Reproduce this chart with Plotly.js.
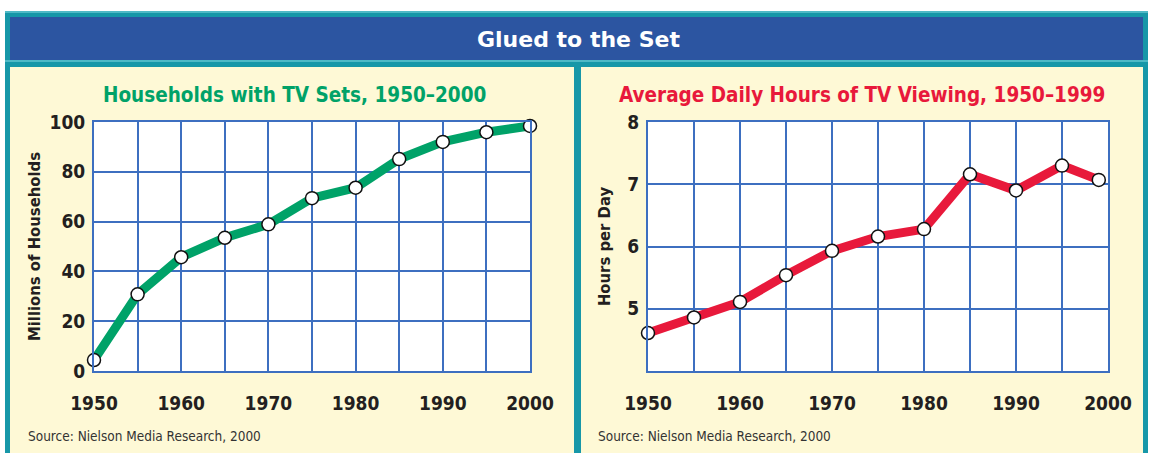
<!DOCTYPE html>
<html>
<head>
<meta charset="utf-8">
<script src="https://cdn.plot.ly/plotly-3.0.1.min.js"></script>
<style>
  html, body { margin: 0; padding: 0; background: #ffffff; }
  #chart { width: 1149px; height: 453px; }
</style>
</head>
<body>
<div id="chart"></div>
<script>
// ---- Data ----
const householdYears = [1950, 1955, 1960, 1965, 1970, 1975, 1980, 1985, 1990, 1995, 2000];
const householdsMillions = [4.4, 30.8, 45.7, 53.5, 58.9, 69.4, 73.6, 85.1, 92.0, 95.9, 98.4];

const viewingYears = [1950, 1955, 1960, 1965, 1970, 1975, 1980, 1985, 1990, 1995, 1999];
const viewingHours = [4.61, 4.86, 5.11, 5.54, 5.93, 6.16, 6.28, 7.16, 6.90, 7.30, 7.07];

const yearTickVals = [1950, 1960, 1970, 1980, 1990, 2000];
const yearTickText = ['1950', '1960', '1970', '1980', '1990', '2000'];
const householdTickVals = [0, 20, 40, 60, 80, 100];
const hoursTickVals = [5, 6, 7, 8];

const mainTitle = 'Glued to the Set';
const leftTitle = 'Households with TV Sets, 1950\u20132000';
const rightTitle = 'Average Daily Hours of TV Viewing, 1950\u20131999';
const leftYTitle = 'Millions of Households';
const rightYTitle = 'Hours per Day';
const sourceText = 'Source: Nielson Media Research, 2000';

// ---- Layout helpers (pixel -> paper) ----
const W = 1149, H = 453;
const fx = x => x / W;
const fy = y => 1 - y / H;

const NARROW = '"DejaVu Sans Condensed", "Liberation Sans Narrow", "Arial Narrow", sans-serif';
const WIDE = '"DejaVu Sans", Arial, sans-serif';
const GRID = '#3d6fc0';
const TEAL = '#1797a8';
const CREAM = '#fef9d6';
const HEADER = '#2c55a1';
const INK = '#231f20';

function rect(x0, y0, x1, y1, color) {
  return { type: 'rect', xref: 'paper', yref: 'paper', layer: 'below',
    x0: fx(x0), x1: fx(x1), y0: fy(y1), y1: fy(y0),
    fillcolor: color, line: { width: 0 } };
}

const markerStyle = { size: 13, color: '#ffffff', line: { color: '#111111', width: 1.5 } };

const traces = [
  { x: householdYears, y: householdsMillions, xaxis: 'x', yaxis: 'y', type: 'scatter',
    mode: 'lines+markers', cliponaxis: false,
    line: { color: '#00a268', width: 9 }, marker: markerStyle, hoverinfo: 'x+y' },
  { x: viewingYears, y: viewingHours, xaxis: 'x2', yaxis: 'y2', type: 'scatter',
    mode: 'lines+markers', cliponaxis: false,
    line: { color: '#e8193b', width: 9 }, marker: markerStyle, hoverinfo: 'x+y' }
];

function xAxis(domain, anchor) {
  return {
    domain: domain, anchor: anchor, range: [1950, 2000],
    tickvals: yearTickVals, ticktext: yearTickText,
    ticks: 'outside', ticklen: 14, tickcolor: 'rgba(0,0,0,0)',
    tickfont: { family: NARROW, size: 19, color: INK, weight: 'bold' },
    showgrid: true, gridcolor: GRID, gridwidth: 2,
    minor: { dtick: 5, tick0: 1950, showgrid: true, gridcolor: GRID, gridwidth: 2, ticks: '' },
    showline: true, linecolor: GRID, linewidth: 2, mirror: true,
    zeroline: false, fixedrange: true
  };
}

function yAxis(domain, anchor, range, tickvals, title, standoff) {
  return {
    domain: domain, anchor: anchor, range: range, tickvals: tickvals,
    ticks: 'outside', ticklen: 3, tickcolor: 'rgba(0,0,0,0)',
    tickfont: { family: NARROW, size: 19, color: INK, weight: 'bold' },
    showgrid: true, gridcolor: GRID, gridwidth: 2,
    showline: true, linecolor: GRID, linewidth: 2, mirror: true,
    zeroline: false, fixedrange: true,
    title: { text: title, standoff: standoff,
      font: { family: NARROW, size: 16.5, color: INK, weight: 'bold' } }
  };
}

const plotTopY = 122, plotBotY = 371;
const yDomain = [fy(plotBotY), fy(plotTopY)];

const layout = {
  width: W, height: H,
  margin: { l: 0, r: 0, t: 0, b: 0, pad: 0 },
  paper_bgcolor: '#ffffff',
  plot_bgcolor: '#ffffff',
  showlegend: false,
  xaxis: xAxis([fx(94), fx(530)], 'y'),
  yaxis: yAxis(yDomain, 'x', [0, 100], householdTickVals, leftYTitle, 5),
  xaxis2: xAxis([fx(648), fx(1108)], 'y2'),
  yaxis2: yAxis(yDomain, 'x2', [4, 8], hoursTickVals, rightYTitle, 13),
  shapes: [
    rect(5, 11, 1148, 453, TEAL),
    rect(5, 11, 1148, 13, '#4fb9c6'),
    rect(5, 60, 1148, 62, '#4fb9c6'),
    rect(10, 17, 1143, 60, HEADER),
    rect(10, 67, 574, 453, CREAM),
    rect(581, 67, 1143, 453, CREAM),
    rect(94, plotTopY, 530, plotBotY, '#ffffff'),
    rect(648, plotTopY, 1108, plotBotY, '#ffffff')
  ],
  annotations: [
    { text: '<b>' + mainTitle + '</b>', xref: 'paper', yref: 'paper', x: fx(578), y: fy(39),
      xanchor: 'center', yanchor: 'middle', showarrow: false,
      font: { family: WIDE, size: 22, color: '#ffffff' } },
    { text: '<b>' + leftTitle + '</b>', xref: 'paper', yref: 'paper', x: fx(294), y: fy(95),
      xanchor: 'center', yanchor: 'middle', showarrow: false,
      font: { family: NARROW, size: 20.5, color: '#00a268' } },
    { text: '<b>' + rightTitle + '</b>', xref: 'paper', yref: 'paper', x: fx(862), y: fy(95),
      xanchor: 'center', yanchor: 'middle', showarrow: false,
      font: { family: NARROW, size: 20.5, color: '#e8193b' } },
    { text: sourceText, xref: 'paper', yref: 'paper', x: fx(26), y: fy(436),
      xanchor: 'left', yanchor: 'middle', showarrow: false,
      font: { family: NARROW, size: 13.5, color: '#333333' } },
    { text: sourceText, xref: 'paper', yref: 'paper', x: fx(596), y: fy(436),
      xanchor: 'left', yanchor: 'middle', showarrow: false,
      font: { family: NARROW, size: 13.5, color: '#333333' } }
  ]
};

Plotly.newPlot('chart', traces, layout, { displayModeBar: false, staticPlot: true });
</script>
</body>
</html>
